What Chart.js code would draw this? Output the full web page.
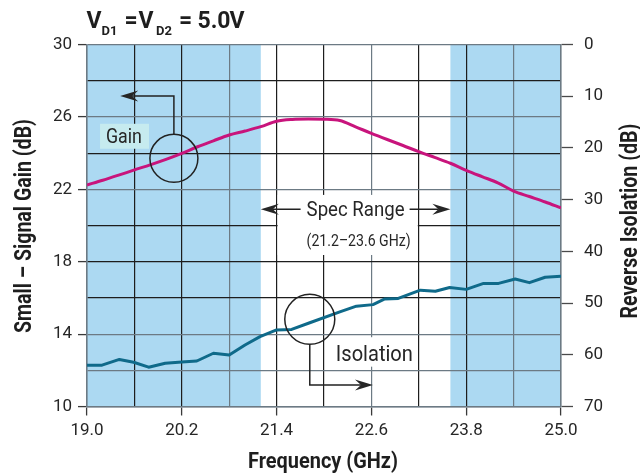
<!DOCTYPE html>
<html>
<head>
<meta charset="utf-8">
<script src="https://cdn.jsdelivr.net/npm/chart.js@4.4.1/dist/chart.umd.min.js"></script>
<style>
html,body{margin:0;padding:0;background:#fff;}
#c{display:block;}
</style>
</head>
<body>
<canvas id="c" width="640" height="475" style="width:640px;height:475px"></canvas>
<script>
// ---------------- data ----------------
const freqTicks  = [19.0, 19.6, 20.2, 20.8, 21.4, 22.0, 22.6, 23.2, 23.8, 24.4, 25.0];
const freqLabels = ['19.0', '', '20.2', '', '21.4', '', '22.6', '', '23.8', '', '25.0'];
const gainTicks  = [10, 12, 14, 16, 18, 20, 22, 24, 26, 28, 30];
const gainLabels = ['10', '', '14', '', '18', '', '22', '', '26', '', '30'];
const isoTicks   = [0, 10, 20, 30, 40, 50, 60, 70];
const isoLabels  = ['0', '10', '20', '30', '40', '50', '60', '70'];

const gainFreq   = [19.0, 19.2, 19.4, 19.6, 19.8, 20.0, 20.2, 20.4, 20.6, 20.8, 21.0, 21.2, 21.4, 21.6, 21.8, 22.0,
                    22.2, 22.4, 22.6, 22.8, 23.0, 23.2, 23.4, 23.6, 23.8, 24.0, 24.2, 24.4, 24.6, 24.8, 25.0];
const gainValues = [22.24, 22.5, 22.78, 23.07, 23.35, 23.65, 23.98, 24.35, 24.68, 25.0, 25.22, 25.46, 25.76, 25.86, 25.88, 25.87,
                    25.8, 25.45, 25.09, 24.75, 24.42, 24.08, 23.76, 23.44, 23.05, 22.7, 22.36, 21.9, 21.6, 21.3, 20.98];

const isoFreq    = [19.0, 19.19, 19.41, 19.59, 19.78, 19.99, 20.2, 20.39, 20.6, 20.8, 21.0, 21.19, 21.4, 21.59, 21.82,
                    22.2, 22.41, 22.62, 22.77, 22.94, 23.22, 23.41, 23.59, 23.8, 24.02, 24.21, 24.42, 24.6, 24.8, 25.0];
const isoValues  = [62.0, 62.0, 60.9, 61.45, 62.4, 61.65, 61.4, 61.2, 59.7, 60.05, 58.1, 56.5, 55.2, 55.1, 53.8,
                    51.7, 50.6, 50.3, 49.2, 49.1, 47.5, 47.7, 47.0, 47.35, 46.2, 46.2, 45.35, 46.05, 45.0, 44.8];

const specRange  = [21.2, 23.6];
const titleText  = ['V', 'D1', '=', 'V', 'D2', '=', '5.0', 'V'];

// ---------------- styles ----------------
const TXT = '#262626';
const GRID_DARK = '#1d1d1d';
const GRID_GREY = '#6c7a84';
const SHADE = '#acd9f2';
const GAIN_COL = '#c8147c';
const ISO_COL = '#0f6a8a';
const greyX = [19.0, 20.8, 22.6, 24.4, 25.0];
const greyY = [10, 12, 14, 22, 26, 30];
const near = (arr, v) => arr.some(a => Math.abs(a - v) < 1e-6);

function fitText(ctx, text, x, y, font, width, align) {
  ctx.save();
  ctx.font = font;
  const w = ctx.measureText(text).width;
  const s = width ? width / w : 1;
  ctx.translate(x, y);
  ctx.scale(s, 1);
  ctx.textAlign = align || 'left';
  ctx.textBaseline = 'alphabetic';
  ctx.fillText(text, 0, 0);
  ctx.restore();
  return w * s;
}
function rotText(ctx, text, x, y, font, width) {
  ctx.save();
  ctx.font = font;
  const w = ctx.measureText(text).width;
  const s = width ? width / w : 1;
  ctx.translate(x, y);
  ctx.rotate(-Math.PI / 2);
  ctx.scale(s, 1);
  ctx.textAlign = 'center';
  ctx.textBaseline = 'alphabetic';
  ctx.fillText(text, 0, 0);
  ctx.restore();
}
function arrowHead(ctx, tx, ty, dir) {
  const L = 18, H = 5.5, N = 12;
  ctx.beginPath();
  ctx.moveTo(tx, ty);
  ctx.lineTo(tx - dir * L, ty - H);
  ctx.lineTo(tx - dir * N, ty);
  ctx.lineTo(tx - dir * L, ty + H);
  ctx.closePath();
  ctx.fill();
}

const decor = {
  id: 'decor',
  beforeDraw(chart) {
    const {ctx, chartArea: a, scales: {x}} = chart;
    ctx.save();
    ctx.fillStyle = '#fff';
    ctx.fillRect(0, 0, chart.width, chart.height);
    ctx.fillStyle = SHADE;
    const x1 = x.getPixelForValue(specRange[0]);
    const x2 = x.getPixelForValue(specRange[1]);
    ctx.fillRect(a.left, a.top, x1 - a.left, a.bottom - a.top);
    ctx.fillRect(x2, a.top, a.right - x2, a.bottom - a.top);
    ctx.restore();
  },
  beforeDatasetsDraw(chart) {
    const {ctx, scales: {x, y, y2}} = chart;
    ctx.save();
    // white box behind spec range text
    ctx.fillStyle = '#fff';
    let l = x.getPixelForValue(21.4) + 1, r = x.getPixelForValue(23.2) - 1;
    let t = y.getPixelForValue(21.69), b = y.getPixelForValue(18.37);
    ctx.fillRect(l, t, r - l, b - t);
    // white box behind Isolation label
    l = x.getPixelForValue(22.10); r = x.getPixelForValue(23.18);
    t = y2.getPixelForValue(56.6); b = y2.getPixelForValue(62.3);
    ctx.fillRect(l, t, r - l, b - t);
    // cyan box behind Gain label
    ctx.fillStyle = '#c6ebef';
    l = x.getPixelForValue(19.165); r = x.getPixelForValue(19.785);
    t = y.getPixelForValue(25.62); b = y.getPixelForValue(24.24);
    ctx.fillRect(l, t, r - l, b - t);
    ctx.restore();
  },
  afterDraw(chart) {
    const {ctx, scales: {x, y, y2}} = chart;
    ctx.save();
    ctx.fillStyle = TXT;
    ctx.strokeStyle = '#222';
    ctx.lineWidth = 1.5;

    // Gain circle + leader
    let cx = x.getPixelForValue(20.10), cy = y.getPixelForValue(23.71), R = 24;
    ctx.beginPath(); ctx.arc(cx, cy, R, 0, Math.PI * 2); ctx.stroke();
    let ay = y.getPixelForValue(27.15), tip = x.getPixelForValue(19.42);
    ctx.beginPath(); ctx.moveTo(cx, cy - R); ctx.lineTo(cx, ay); ctx.lineTo(tip + 12, ay); ctx.stroke();
    arrowHead(ctx, tip, ay, -1);

    // Isolation circle + leader
    cx = x.getPixelForValue(21.82); cy = y2.getPixelForValue(53.15); R = 25;
    ctx.beginPath(); ctx.arc(cx, cy, R, 0, Math.PI * 2); ctx.stroke();
    ay = y2.getPixelForValue(65.85); tip = x.getPixelForValue(22.62);
    ctx.beginPath(); ctx.moveTo(cx, cy + R); ctx.lineTo(cx, ay); ctx.lineTo(tip - 12, ay); ctx.stroke();
    arrowHead(ctx, tip, ay, 1);

    // Spec range arrows & text
    const sy = y.getPixelForValue(20.9);
    const sl = x.getPixelForValue(specRange[0]), sr = x.getPixelForValue(specRange[1]);
    const mid = (sl + sr) / 2;
    const tw = 98;
    ctx.beginPath();
    ctx.moveTo(sl + 12, sy); ctx.lineTo(mid - tw / 2 - 6, sy);
    ctx.moveTo(mid + tw / 2 + 5, sy); ctx.lineTo(sr - 12, sy);
    ctx.stroke();
    arrowHead(ctx, sl, sy, -1);
    arrowHead(ctx, sr, sy, 1);
    fitText(ctx, 'Spec Range', mid, y.getPixelForValue(20.52), '21px Roboto', tw, 'center');
    fitText(ctx, '(21.2\u201323.6 GHz)', mid + 3, y.getPixelForValue(18.87), '16px Roboto', 104, 'center');

    // Series labels
    fitText(ctx, 'Gain', x.getPixelForValue(19.24), y.getPixelForValue(24.54), '21px Roboto', 36, 'left');
    fitText(ctx, 'Isolation', x.getPixelForValue(22.15), y2.getPixelForValue(61.2), '22px Roboto', 77, 'left');

    // Title  V_D1 = V_D2 = 5.0 V
    ctx.fillStyle = '#1e1e1e';
    const big = 'bold 23px Roboto', sub = 'bold 13px Roboto';
    fitText(ctx, titleText[0], 86.5, 28.3, big);
    fitText(ctx, titleText[1], 101.5, 35, sub);
    fitText(ctx, titleText[2], 124.5, 28.3, big);
    fitText(ctx, titleText[3], 138.5, 28.3, big);
    fitText(ctx, titleText[4], 156, 35, sub);
    fitText(ctx, titleText[5], 179, 28.3, big);
    fitText(ctx, titleText[6], 197.5, 28.3, big);
    fitText(ctx, titleText[7], 229.5, 28.3, big);

    // Axis titles
    fitText(ctx, 'Frequency (GHz)', 323, 468, 'bold 22px Roboto', 150, 'center');
    rotText(ctx, 'Small \u2013 Signal Gain (dB)', 31, 226, 'bold 23px Roboto', 214);
    rotText(ctx, 'Reverse Isolation (dB)', 636.5, 221, 'bold 23px Roboto', 195);
    ctx.restore();
  }
};

const gridX = ctx => near(greyX, ctx.tick ? ctx.tick.value : NaN) ? GRID_GREY : GRID_DARK;
const gridY = ctx => near(greyY, ctx.tick ? ctx.tick.value : NaN) ? GRID_GREY : GRID_DARK;

new Chart(document.getElementById('c'), {
  type: 'line',
  data: {
    datasets: [
      {
        label: 'Gain',
        data: gainFreq.map((f, i) => ({x: f, y: gainValues[i]})),
        yAxisID: 'y',
        borderColor: GAIN_COL,
        borderWidth: 3,
        pointRadius: 0,
        cubicInterpolationMode: 'monotone',
        fill: false
      },
      {
        label: 'Isolation',
        data: isoFreq.map((f, i) => ({x: f, y: isoValues[i]})),
        yAxisID: 'y2',
        borderColor: ISO_COL,
        borderWidth: 3,
        pointRadius: 0,
        tension: 0,
        borderJoinStyle: 'round',
        fill: false
      }
    ]
  },
  options: {
    responsive: false,
    animation: false,
    devicePixelRatio: 1,
    layout: {padding: {top: 44.5, left: 0, right: 0, bottom: 0}},
    plugins: {legend: {display: false}, tooltip: {enabled: false}, title: {display: false}},
    scales: {
      x: {
        type: 'linear', position: 'bottom', min: 19, max: 25,
        afterBuildTicks: s => { s.ticks = freqTicks.map(v => ({value: v})); },
        afterFit: s => { s.height = 68.5; },
        ticks: {
          callback: (v, i) => freqLabels[i],
          autoSkip: false, maxRotation: 0, minRotation: 0,
          font: {family: 'Roboto', size: 17}, color: TXT, padding: 5
        },
        grid: {
          color: gridX, lineWidth: 1.2, tickLength: 9,
          tickColor: ctx => (freqLabels[ctx.index] ? '#3a3a3a' : 'rgba(0,0,0,0)'),
          tickWidth: 1.3
        },
        border: {display: true, color: GRID_GREY, width: 1.5}
      },
      y: {
        type: 'linear', position: 'left', min: 10, max: 30,
        afterBuildTicks: s => { s.ticks = gainTicks.map(v => ({value: v})); },
        afterFit: s => { s.width = 87; },
        ticks: {
          callback: (v, i) => gainLabels[i],
          autoSkip: false,
          font: {family: 'Roboto', size: 17}, color: TXT, padding: 6
        },
        grid: {
          color: gridY, lineWidth: 1.2, tickLength: 9,
          tickColor: ctx => (gainLabels[ctx.index] ? '#3a3a3a' : 'rgba(0,0,0,0)'),
          tickWidth: 1.3
        },
        border: {display: true, color: GRID_GREY, width: 1.5}
      },
      y2: {
        type: 'linear', position: 'right', min: 0, max: 70, reverse: true,
        afterBuildTicks: s => { s.ticks = isoTicks.map(v => ({value: v})); },
        afterFit: s => { s.width = 79; },
        ticks: {
          callback: (v, i) => isoLabels[i],
          autoSkip: false,
          font: {family: 'Roboto', size: 17}, color: TXT, padding: 11
        },
        grid: {drawOnChartArea: false, tickLength: 12, tickColor: '#4a4a4a', tickWidth: 1.3},
        border: {display: true, color: GRID_GREY, width: 1.5}
      }
    }
  },
  plugins: [decor]
});
</script>
</body>
</html>
